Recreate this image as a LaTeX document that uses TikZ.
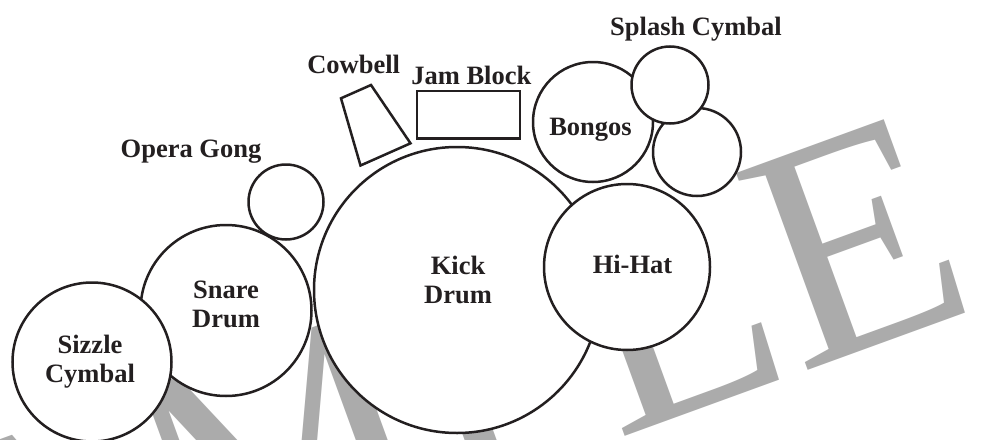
\documentclass[tikz,border=0pt]{standalone}
\usepackage{fontspec}
\setmainfont{Liberation Serif}
\definecolor{kitink}{HTML}{231F20}
\definecolor{kitgray}{HTML}{ABABAB}

\begin{document}
\begin{tikzpicture}[x=1pt, y=-1pt,
        drum/.style={circle, draw=kitink, fill=white, line width=2.5pt, inner sep=0pt},
        lbl/.style={text=kitink, inner sep=0pt, align=center, font=\bfseries\fontsize{26.5}{29.5}\selectfont}
    ]
      \useasboundingbox[fill=white] (0,0) rectangle (982,439);
      % watermark behind the kit
      \node[anchor=base west, rotate=20, inner sep=0pt, text=kitgray, font=\fontsize{320}{320}\selectfont] (stamp) at (-203,738) {SAMPLE};
      % drums and cymbals
      \node[drum, minimum size=286pt] (kick) at (457,290) {};
      \node[drum, minimum size=166pt] (hihat) at (627,267) {};
      \node[drum, minimum size=171pt] (snare) at (226,310.5) {};
      \node[drum, minimum size=159pt] (sizzle) at (92,362) {};
      \node[drum, minimum size=75pt] (gong) at (286,202) {};
      \node[drum, minimum size=120pt] (bongos) at (593,122) {};
      \node[drum, minimum size=88pt] (bongolow) at (697,152) {};
      \node[drum, minimum size=77pt] (splash) at (670,85) {};
      \node[draw=kitink, fill=white, line width=2.5pt, inner sep=0pt, minimum width=103pt, minimum height=47.5pt] (jamblock) at (468.5,114.8) {};
      \draw[draw=kitink, fill=white, line width=2.5pt] (341,98.3) -- (371,85) -- (410.5,143.3) -- (360.5,165.5) -- cycle;
      % labels
      \node[lbl, anchor=base] (gonglbl) at (191,157) {Opera Gong};
      \node[lbl, anchor=base] (cowbelllbl) at (353.7,73.7) {Cowbell};
      \node[lbl, anchor=base] (jamlbl) at (471.3,84) {Jam Block};
      \node[lbl, anchor=base] (splashlbl) at (696,35) {Splash Cymbal};
      \node[lbl, anchor=base] (bongolbl) at (590.5,135) {Bongos};
      \node[lbl, anchor=base] (hihatlbl) at (632.5,273.5) {Hi-Hat};
      \node[lbl] (kicklbl) at (458,279.8) {Kick\\Drum};
      \node[lbl] (snarelbl) at (226,304.6) {Snare\\Drum};
      \node[lbl] (sizzlelbl) at (90,361.8) {Sizzle\\Cymbal};
\end{tikzpicture}
\end{document}
